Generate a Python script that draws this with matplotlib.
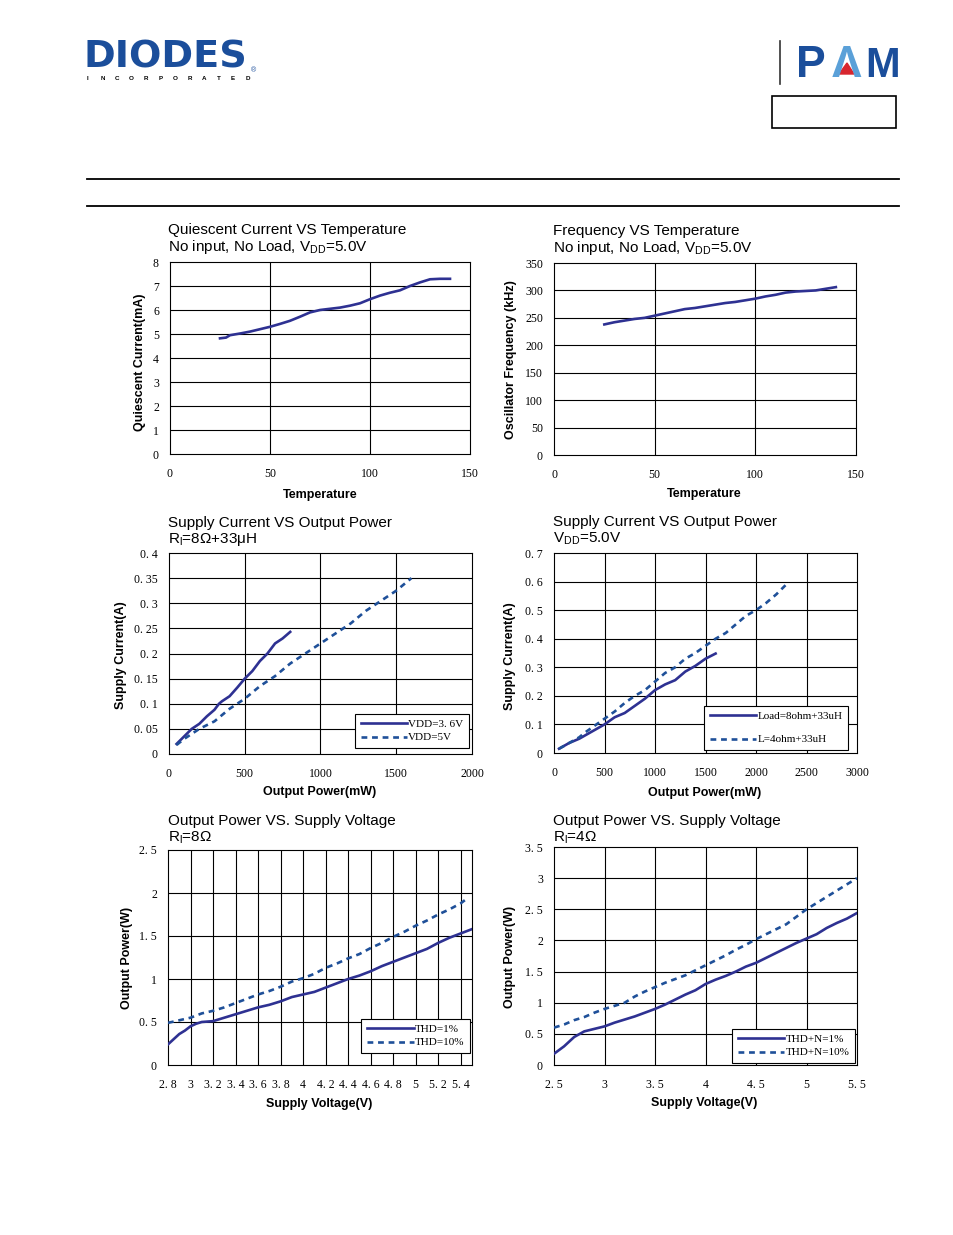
import matplotlib
matplotlib.use('Agg')
import matplotlib.pyplot as plt
from matplotlib.patches import Rectangle, Polygon
from matplotlib.lines import Line2D

W, H = 954, 1235

plt.rcParams['font.family'] = ['Liberation Sans', 'DejaVu Sans']
plt.rcParams['mathtext.fontset'] = 'custom'
plt.rcParams['mathtext.rm'] = 'Liberation Sans'

SOLID = '#2e3192'
DASH = '#1f5099'
SERIF = 'Liberation Serif'

# --- data ---
# Quiescent current vs temperature
iq_temp = [25, 28, 30, 35, 40, 45, 50, 55, 60, 65, 70, 75, 80, 85, 90, 95, 100,
           105, 110, 115, 120, 125, 130, 135, 140]
iq_ma = [4.82, 4.85, 4.95, 5.02, 5.1, 5.2, 5.3, 5.42, 5.55, 5.72, 5.9, 6.0, 6.05,
         6.1, 6.18, 6.28, 6.45, 6.6, 6.72, 6.82, 7.0, 7.15, 7.28, 7.3, 7.3]

# Oscillator frequency vs temperature
fosc_temp = [25, 30, 35, 40, 45, 50, 55, 60, 65, 70, 75, 80, 85, 90, 95, 100,
             105, 110, 115, 120, 125, 130, 135, 140]
fosc_khz = [238, 242, 245, 248, 250, 254, 258, 262, 266, 268, 271, 274, 277, 279,
            282, 285, 289, 292, 296, 298, 299, 300, 303, 306]

# Supply current vs output power, 8ohm+33uH
isup8_p36 = [50, 100, 150, 200, 250, 300, 330, 350, 400, 450, 500, 550, 600, 650,
             700, 750, 800]
isup8_i36 = [0.02, 0.035, 0.05, 0.06, 0.075, 0.088, 0.1, 0.105, 0.115, 0.132, 0.15,
             0.165, 0.185, 0.2, 0.22, 0.23, 0.243]
isup8_p5 = [50, 100, 200, 300, 400, 500, 600, 700, 800, 900, 1000, 1100, 1200,
            1300, 1400, 1500, 1600]
isup8_i5 = [0.018, 0.03, 0.05, 0.065, 0.09, 0.11, 0.135, 0.155, 0.18, 0.2, 0.22,
            0.24, 0.26, 0.285, 0.305, 0.325, 0.35]

# Supply current vs output power, VDD=5V
isup5_p8 = [50, 100, 150, 250, 300, 400, 500, 600, 700, 800, 900, 1000, 1100, 1200,
            1300, 1400, 1500, 1600]
isup5_i8 = [0.015, 0.025, 0.035, 0.05, 0.06, 0.08, 0.1, 0.125, 0.14, 0.165, 0.19,
            0.22, 0.24, 0.255, 0.285, 0.305, 0.33, 0.348]
isup5_p4 = [50, 150, 250, 300, 400, 500, 600, 700, 800, 900, 1000, 1100, 1200, 1300,
            1400, 1500, 1600, 1700, 1800, 1900, 2000, 2100, 2200, 2300]
isup5_i4 = [0.015, 0.035, 0.055, 0.07, 0.095, 0.12, 0.145, 0.175, 0.2, 0.22, 0.25,
            0.28, 0.3, 0.33, 0.35, 0.375, 0.4, 0.42, 0.45, 0.48, 0.5, 0.525, 0.555, 0.59]

# Output power vs supply voltage, 8 ohm
po8_v1 = [2.8, 2.85, 2.9, 2.95, 3.0, 3.05, 3.1, 3.2, 3.3, 3.4, 3.5, 3.6, 3.7, 3.8,
          3.9, 4.0, 4.1, 4.2, 4.3, 4.4, 4.5, 4.6, 4.7, 4.8, 4.9, 5.0, 5.1, 5.2, 5.3,
          5.4, 5.5]
po8_w1 = [0.24, 0.3, 0.36, 0.4, 0.45, 0.48, 0.5, 0.51, 0.55, 0.59, 0.63, 0.67, 0.7,
          0.74, 0.79, 0.82, 0.85, 0.9, 0.95, 1.0, 1.04, 1.09, 1.15, 1.2, 1.25, 1.3,
          1.35, 1.42, 1.48, 1.53, 1.58]
po8_v10 = [2.8, 2.9, 3.0, 3.1, 3.2, 3.3, 3.4, 3.5, 3.6, 3.7, 3.8, 3.9, 4.0, 4.1,
           4.2, 4.3, 4.4, 4.5, 4.6, 4.7, 4.8, 4.9, 5.0, 5.1, 5.2, 5.3, 5.4, 5.45]
po8_w10 = [0.49, 0.52, 0.55, 0.6, 0.63, 0.67, 0.72, 0.77, 0.82, 0.86, 0.91, 0.97,
           1.01, 1.06, 1.13, 1.18, 1.24, 1.29, 1.36, 1.42, 1.49, 1.55, 1.62, 1.68,
           1.75, 1.81, 1.88, 1.93]

# Output power vs supply voltage, 4 ohm
po4_v = [2.5, 2.6, 2.7, 2.8, 2.9, 3.0, 3.1, 3.2, 3.3, 3.4, 3.5, 3.6, 3.7, 3.8, 3.9,
         4.0, 4.1, 4.2, 4.3, 4.4, 4.5, 4.6, 4.7, 4.8, 4.9, 5.0, 5.1, 5.2, 5.3, 5.4, 5.5]
po4_w1 = [0.18, 0.3, 0.45, 0.54, 0.58, 0.62, 0.68, 0.73, 0.78, 0.84, 0.9, 0.97, 1.05,
          1.13, 1.2, 1.3, 1.37, 1.43, 1.5, 1.58, 1.64, 1.72, 1.8, 1.88, 1.96, 2.03,
          2.1, 2.2, 2.28, 2.35, 2.44]
po4_w10 = [0.6, 0.65, 0.72, 0.77, 0.84, 0.9, 0.95, 1.0, 1.1, 1.18, 1.25, 1.32, 1.38,
           1.44, 1.52, 1.6, 1.68, 1.76, 1.85, 1.93, 2.02, 2.1, 2.18, 2.26, 2.38, 2.5,
           2.6, 2.7, 2.8, 2.9, 3.0]

fig = plt.figure(figsize=(W / 100, H / 100), dpi=100)


def px_axes(x0, y0, x1, y1):
    return fig.add_axes([x0 / W, 1 - y1 / H, (x1 - x0) / W, (y1 - y0) / H])


def ftxt(x, y, s, **kw):
    return fig.text(x / W, 1 - y / H, s, **kw)


def lab(v):
    return ('%g' % v).replace('.', '. ')


def setup(ax, xlim, ylim, xticks, yticks, xgrid):
    ax.set_xlim(xlim)
    ax.set_ylim(ylim)
    ax.set_xticks(xticks)
    ax.set_yticks(yticks)
    ax.set_xticklabels([lab(v) for v in xticks], fontfamily=SERIF, fontsize=8.5)
    ax.set_yticklabels([lab(v) for v in yticks], fontfamily=SERIF, fontsize=8.5)
    ax.tick_params(axis='x', length=0, pad=10)
    ax.tick_params(axis='y', length=0, pad=8)
    for v in xgrid:
        ax.axvline(v, color='k', lw=0.8, zorder=1)
    for v in yticks[1:-1]:
        ax.axhline(v, color='k', lw=0.8, zorder=1)
    for s in ax.spines.values():
        s.set_color('k')
        s.set_linewidth(0.8)


def legend(ax, anchor, spacing=0.6):
    lg = ax.legend(loc='lower right', bbox_to_anchor=anchor, borderaxespad=0,
                   fancybox=False, framealpha=1, edgecolor='k',
                   prop={'family': SERIF, 'size': 8}, handlelength=4.2,
                   handletextpad=0.1, labelspacing=spacing, borderpad=0.5)
    lg.get_frame().set_linewidth(0.8)
    return lg


def titles(x, y, l1, l2):
    ftxt(x, y, l1, fontsize=11, va='center')
    ftxt(x, y + 17, l2, fontsize=11, va='center')


def xlabel(x, y, s):
    ftxt(x, y, s, fontsize=9, fontweight='bold', ha='center', va='center')


def ylabel(x, y, s):
    ftxt(x, y, s, fontsize=9, fontweight='bold', ha='center', va='center',
         rotation=90)


solid_kw = dict(color=SOLID, lw=1.9, zorder=3)
dash_kw = dict(color=DASH, lw=1.9, dashes=(2.2, 1.8), zorder=3)

# chart 1
ax = px_axes(170, 262, 470, 454)
setup(ax, (0, 150), (0, 8), [0, 50, 100, 150], list(range(9)), [50, 100])
ax.plot(iq_temp, iq_ma, **solid_kw)
titles(168, 230, 'Quiescent Current VS Temperature',
       r'No input, No Load, V$_{\mathregular{DD}}$=5.0V')
xlabel(320, 495, 'Temperature')
ylabel(140, 362, 'Quiescent Current(mA)')

# chart 2
ax = px_axes(554, 263, 856, 455)
setup(ax, (0, 150), (0, 350), [0, 50, 100, 150], list(range(0, 351, 50)), [50, 100])
ax.plot(fosc_temp, fosc_khz, **solid_kw)
titles(553, 231, 'Frequency VS Temperature',
       r'No input, No Load, V$_{\mathregular{DD}}$=5.0V')
xlabel(704, 494, 'Temperature')
ylabel(511, 360, 'Oscillator Frequency (kHz)')

# chart 3
ax = px_axes(169, 553, 472, 754)
yt = [0, 0.05, 0.1, 0.15, 0.2, 0.25, 0.3, 0.35, 0.4]
setup(ax, (0, 2000), (0, 0.4), [0, 500, 1000, 1500, 2000], yt, [500, 1000, 1500])
ax.plot(isup8_p36, isup8_i36, label='VDD=3. 6V', **solid_kw)
ax.plot(isup8_p5, isup8_i5, label='VDD=5V', **dash_kw)
legend(ax, (0.99, 0.03), spacing=0.3)
titles(168, 523, 'Supply Current VS Output Power',
       r'R$_{\mathregular{l}}$=8Ω+33μH')
xlabel(320, 792, 'Output Power(mW)')
ylabel(121, 655, 'Supply Current(A)')

# chart 4
ax = px_axes(554, 553, 857, 753)
yt = [0, 0.1, 0.2, 0.3, 0.4, 0.5, 0.6, 0.7]
xt = [0, 500, 1000, 1500, 2000, 2500, 3000]
setup(ax, (0, 3000), (0, 0.7), xt, yt, xt[1:-1])
ax.plot(isup5_p8, isup5_i8, label='Load=8ohm+33uH', **solid_kw)
ax.plot(isup5_p4, isup5_i4, label='L=4ohm+33uH', **dash_kw)
legend(ax, (0.97, 0.015), spacing=1.2)
titles(553, 522, 'Supply Current VS Output Power',
       r'V$_{\mathregular{DD}}$=5.0V')
xlabel(705, 793, 'Output Power(mW)')
ylabel(510, 656, 'Supply Current(A)')

# chart 5
ax = px_axes(168, 850, 472, 1065)
xt = [2.8, 3.0, 3.2, 3.4, 3.6, 3.8, 4.0, 4.2, 4.4, 4.6, 4.8, 5.0, 5.2, 5.4]
yt = [0, 0.5, 1, 1.5, 2, 2.5]
setup(ax, (2.8, 5.5), (0, 2.5), xt, yt, xt[1:])
ax.plot(po8_v1, po8_w1, label='THD=1%', **solid_kw)
ax.plot(po8_v10, po8_w10, label='THD=10%', **dash_kw)
legend(ax, (0.993, 0.056), spacing=0.3)
titles(168, 821, 'Output Power VS. Supply Voltage', r'R$_{\mathregular{l}}$=8Ω')
xlabel(319, 1104, 'Supply Voltage(V)')
ylabel(127, 958, 'Output Power(W)')

# chart 6
ax = px_axes(554, 847, 857, 1065)
xt = [2.5, 3, 3.5, 4, 4.5, 5, 5.5]
yt = [0, 0.5, 1, 1.5, 2, 2.5, 3, 3.5]
setup(ax, (2.5, 5.5), (0, 3.5), xt, yt, xt[1:-1])
ax.plot(po4_v, po4_w1, label='THD+N=1%', **solid_kw)
ax.plot(po4_v, po4_w10, label='THD+N=10%', **dash_kw)
legend(ax, (0.993, 0.009), spacing=0.3)
titles(553, 821, 'Output Power VS. Supply Voltage', r'R$_{\mathregular{l}}$=4Ω')
xlabel(704, 1103, 'Supply Voltage(V)')
ylabel(510, 957, 'Output Power(W)')

# --- page header ---
ftxt(84, 68, 'DIODES', fontsize=27.5, fontweight='bold', color='#1b4e9b',
     va='baseline', family='DejaVu Sans')
for i, c in enumerate('INCORPORATED'):
    ftxt(88 + i * 14.5, 78, c, fontsize=4.5, fontweight='bold', ha='center',
         va='center')
ftxt(251, 71, '®', fontsize=5, color='#1b4e9b', va='center')

fig.add_artist(Line2D([780 / W, 780 / W], [1 - 41 / H, 1 - 84 / H], color='#333333',
                      lw=1.2))
ftxt(796, 77, 'P', fontsize=32, fontweight='bold', color='#1b4e9b', va='baseline')
ftxt(847, 77, 'Λ', fontsize=32, fontweight='bold', color='#5aa0d8', va='baseline',
     ha='center')
ftxt(865, 77, 'M', fontsize=30, fontweight='bold', color='#1b4e9b', va='baseline')
fig.add_artist(Polygon([(839 / W, 1 - 74 / H), (847 / W, 1 - 63 / H),
                        (854 / W, 1 - 74 / H)], closed=True, color='#d7262e',
                       transform=fig.transFigure))
fig.add_artist(Rectangle((772 / W, 1 - 128 / H), 124 / W, 32 / H, fill=False,
                         edgecolor='k', lw=1.2, transform=fig.transFigure))
for y in (179, 205.5):
    fig.add_artist(Line2D([87 / W, 899 / W], [1 - y / H, 1 - y / H], color='k',
                          lw=1.3))

fig.savefig('out.png', dpi=100)
